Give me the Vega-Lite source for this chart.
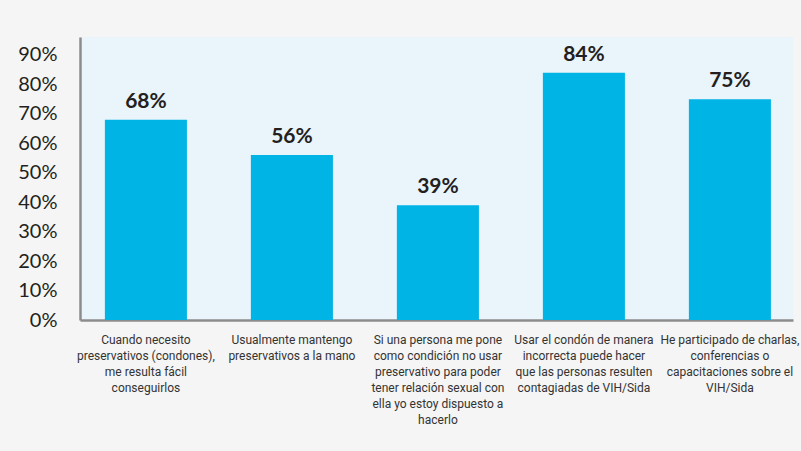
{
  "$schema": "https://vega.github.io/schema/vega-lite/v6.json",
  "width": 713,
  "height": 283,
  "autosize": {"type": "none"},
  "padding": {"left": 80, "top": 37, "right": 8, "bottom": 131},
  "background": "#f5f5f5",
  "config": {
    "view": {"fill": "#eaf4fb", "stroke": null}
  },
  "data": {
    "values": [
      {"cat": "Cuando necesito|preservativos (condones),|me resulta fácil|conseguirlos", "pct": 0.68, "label": "68%"},
      {"cat": "Usualmente mantengo|preservativos a la mano", "pct": 0.56, "label": "56%"},
      {"cat": "Si una persona me pone|como condición no usar|preservativo para poder|tener relación sexual con|ella yo estoy dispuesto a|hacerlo", "pct": 0.39, "label": "39%"},
      {"cat": "Usar el condón de manera|incorrecta puede hacer|que las personas resulten|contagiadas de VIH/Sida", "pct": 0.84, "label": "84%"},
      {"cat": "He participado de charlas,|conferencias o|capacitaciones sobre el|VIH/Sida", "pct": 0.75, "label": "75%"}
    ]
  },
  "encoding": {
    "x": {
      "field": "cat",
      "type": "nominal",
      "sort": null,
      "title": null,
      "scale": {"paddingInner": 0.438, "paddingOuter": 0.1608, "align": 0.53},
      "axis": {
        "labelAngle": 0,
        "labelExpr": "split(datum.value, '|')",
        "labelFont": "Roboto",
        "labelFontSize": 12,
        "labelLineHeight": 16,
        "labelColor": "#333333",
        "labelPadding": 14,
        "labelLimit": 200,
        "ticks": false,
        "domainColor": "#8c8c8c",
        "domainWidth": 2.5
      }
    },
    "y": {
      "field": "pct",
      "type": "quantitative",
      "title": null,
      "scale": {"domain": [0, 0.961], "nice": false},
      "axis": {
        "values": [0, 0.1, 0.2, 0.3, 0.4, 0.5, 0.6, 0.7, 0.8, 0.9],
        "format": ".0%",
        "grid": false,
        "ticks": false,
        "labelFont": "Lato",
        "labelFontSize": 20,
        "labelColor": "#231f20",
        "labelPadding": 23,
        "domainColor": "#8c8c8c",
        "domainWidth": 2.5
      }
    }
  },
  "layer": [
    {"mark": {"type": "bar", "color": "#00b5e6"}},
    {
      "mark": {"type": "text", "baseline": "bottom", "dy": -8, "font": "Lato", "fontWeight": "bold", "fontSize": 21, "color": "#231f20"},
      "encoding": {"text": {"field": "label"}}
    }
  ]
}
